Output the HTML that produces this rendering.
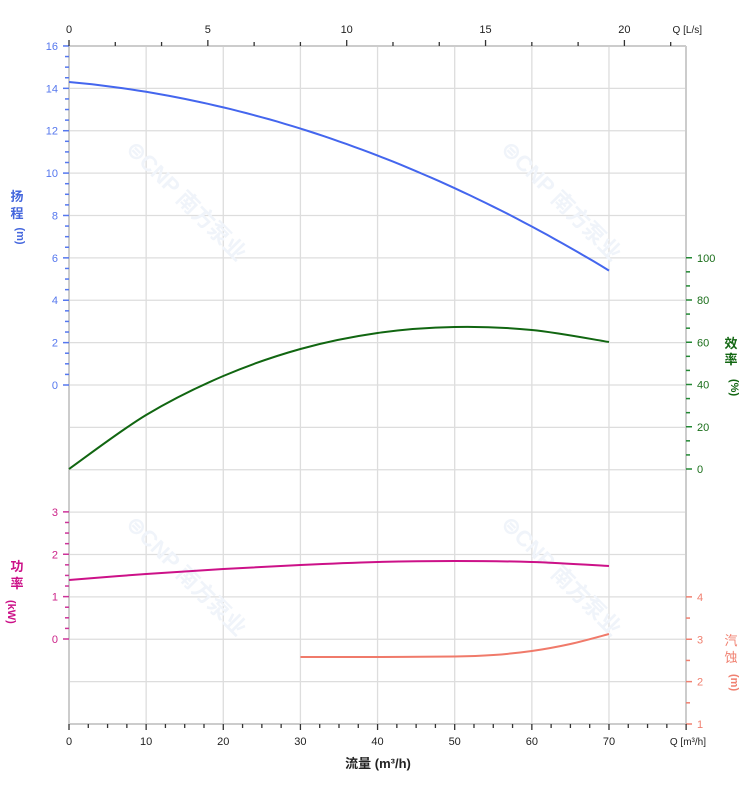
<!DOCTYPE html>
<html><head><meta charset="utf-8"><style>
body{margin:0;background:#fff;}
svg{display:block;font-family:"Liberation Sans","Noto Sans CJK SC",sans-serif;}
</style></head><body>
<svg id="s" width="752" height="797" viewBox="0 0 752 797" xmlns="http://www.w3.org/2000/svg"></svg>
<script>
const s=document.getElementById('s');let h='';
const X=q=>69+q*7.714;
for(let i=0;i<=8;i++){const x=69+i*77.14;h+=`<line x1="${x}" y1="46" x2="${x}" y2="724" stroke="#ddd" stroke-width="1.3"/>`;}
for(let i=0;i<=16;i++){const y=46+i*42.375;h+=`<line x1="69" y1="${y}" x2="686" y2="${y}" stroke="#ddd" stroke-width="1.3"/>`;}
h+=`<line x1="69" y1="46" x2="69" y2="724" stroke="#ccc" stroke-width="2"/><line x1="686" y1="46" x2="686" y2="724" stroke="#ccc" stroke-width="2"/><line x1="69" y1="724" x2="686" y2="724" stroke="#ccc" stroke-width="2"/><line x1="69" y1="46" x2="686" y2="46" stroke="#ccc" stroke-width="2"/>`;
[[125,150],[500,150],[125,525],[500,525]].forEach(([x,y])=>{h+=`<text x="${x}" y="${y}" transform="rotate(45 ${x} ${y})" font-size="22" font-weight="bold" fill="#f0f4fa">⊜CNP 南方泵业</text>`;});
for(let v=0;v<=16;v+=0.5){const y=385-v*21.19;const maj=v%2==0;h+=`<line x1="${maj?63:65}" y1="${y}" x2="69" y2="${y}" stroke="#5577ee" stroke-width="1.5"/>`;if(maj)h+=`<text x="58" y="${y+4}" text-anchor="end" font-size="11" fill="#5577ee">${v}</text>`;}
for(let v=0;v<=3;v+=0.25){const y=639-v*42.375;const maj=v%1==0;h+=`<line x1="${maj?63:65}" y1="${y}" x2="69" y2="${y}" stroke="#cc3399" stroke-width="1.5"/>`;if(maj)h+=`<text x="58" y="${y+4}" text-anchor="end" font-size="11" fill="#cc2288">${v}</text>`;}
for(let k=0;k<=15;k++){const v=k*20/3;const y=469-v*2.1125;const maj=k%3==0;h+=`<line x1="686" y1="${y}" x2="${maj?692:690}" y2="${y}" stroke="#228833" stroke-width="1.5"/>`;if(maj)h+=`<text x="697" y="${y+4}" font-size="11" fill="#1a6e1a">${Math.round(v)}</text>`;}
for(let v=1;v<=4;v+=0.5){const y=724-(v-1)*42.375;const maj=v%1==0;h+=`<line x1="686" y1="${y}" x2="${maj?692:690}" y2="${y}" stroke="#f08070" stroke-width="1.5"/>`;if(maj)h+=`<text x="697" y="${y+4}" font-size="11" fill="#f08070">${v}</text>`;}
for(let q=0;q<=80;q+=2.5){const x=X(q);const maj=q%10==0;h+=`<line x1="${x}" y1="724" x2="${x}" y2="${maj?730:728}" stroke="#333" stroke-width="1.3"/>`;if(maj&&q<80)h+=`<text x="${x}" y="745" text-anchor="middle" font-size="11" fill="#222">${q}</text>`;}
h+=`<text x="706" y="745" text-anchor="end" font-size="10" fill="#222">Q [m³/h]</text>`;
for(let k=0;k<=22;k++){const ls=k*5/3;const x=69+ls*27.77;if(x>687)break;const maj=k%3==0;h+=`<line x1="${x}" y1="${maj?40:42}" x2="${x}" y2="46" stroke="#333" stroke-width="1.3"/>`;if(maj)h+=`<text x="${x}" y="33" text-anchor="middle" font-size="11" fill="#222">${Math.round(ls)}</text>`;}
h+=`<text x="702" y="33" text-anchor="end" font-size="10" fill="#222">Q [L/s]</text>`;
h+=`<text x="17" y="201" text-anchor="middle" font-size="13" font-weight="bold" fill="#4466dd">扬</text><text x="17" y="218" text-anchor="middle" font-size="13" font-weight="bold" fill="#4466dd">程</text><text x="17" y="236" text-anchor="middle" font-size="11" font-weight="bold" fill="#4466dd" transform="rotate(90 17 236)">(m)</text>`;
h+=`<text x="17" y="571" text-anchor="middle" font-size="13" font-weight="bold" fill="#cc1188">功</text><text x="17" y="588" text-anchor="middle" font-size="13" font-weight="bold" fill="#cc1188">率</text><text x="14" y="606" font-size="11" font-weight="bold" fill="#cc1188" transform="rotate(90 14 600)">(kW)</text>`;
h+=`<text x="731" y="348" text-anchor="middle" font-size="13" font-weight="bold" fill="#116611">效</text><text x="731" y="364" text-anchor="middle" font-size="13" font-weight="bold" fill="#116611">率</text><text x="727" y="383" font-size="11" font-weight="bold" fill="#116611" transform="rotate(90 731 383)">(%)</text>`;
h+=`<text x="731" y="645" text-anchor="middle" font-size="13" fill="#f08070">汽</text><text x="731" y="662" text-anchor="middle" font-size="13" fill="#f08070">蚀</text><text x="727" y="678" font-size="11" font-weight="bold" fill="#f08070" transform="rotate(90 731 678)">(m)</text>`;
h+=`<text x="378" y="768" text-anchor="middle" font-size="13" font-weight="bold" fill="#222">流量 (m³/h)</text>`;
let p=[];for(let q=0;q<=70;q+=1){const H=14.3-0.033*q-0.001345*q*q;p.push(X(q).toFixed(1)+','+(385-H*21.19).toFixed(1));}
h+=`<polyline points="${p.join(' ')}" fill="none" stroke="#4466ee" stroke-width="2"/>`;
function sm(pts,col){
  const P=pts.map(([q,y])=>[X(q),y]);let d=`M${P[0][0]},${P[0][1]}`;
  for(let i=0;i<P.length-1;i++){const p0=P[i-1]||P[i],p1=P[i],p2=P[i+1],p3=P[i+2]||P[i+1];
    const c1=[p1[0]+(p2[0]-p0[0])/6,p1[1]+(p2[1]-p0[1])/6],c2=[p2[0]-(p3[0]-p1[0])/6,p2[1]-(p3[1]-p1[1])/6];
    d+=` C${c1[0].toFixed(1)},${c1[1].toFixed(1)} ${c2[0].toFixed(1)},${c2[1].toFixed(1)} ${p2[0].toFixed(1)},${p2[1]}`;}
  h+=`<path d="${d}" fill="none" stroke="${col}" stroke-width="2"/>`;}
sm([[0,469],[10,415],[20,376],[30,349],[40,333],[50,327],[60,330],[70,342]],'#116611');
sm([[0,580],[10,574],[20,569],[30,565],[40,562],[50,561],[60,562],[70,566]],'#cc1188');
sm([[30,657],[40,657],[50,656.5],[55,655],[60,651],[65,644],[70,634]],'#f07a6a');
s.innerHTML=h;
</script>
</body></html>
